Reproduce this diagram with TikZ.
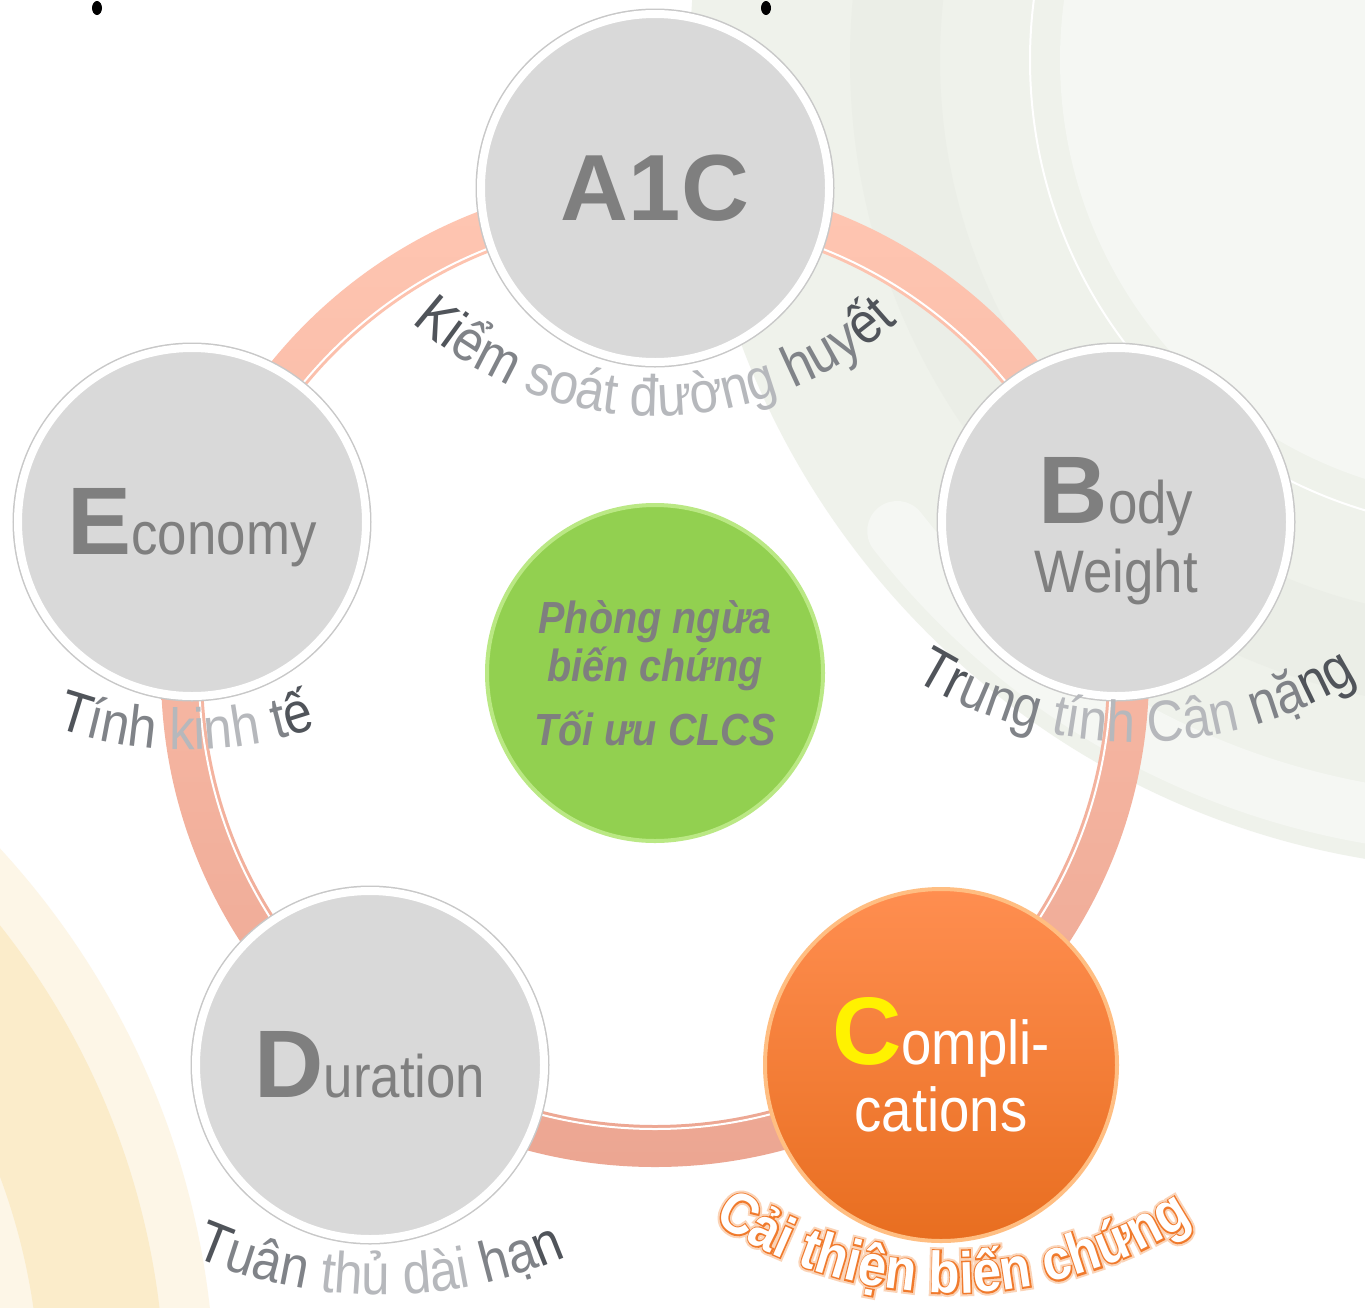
\documentclass[tikz,border=0pt]{standalone}
\usepackage{fontspec}
\setmainfont{Liberation Sans}
\newfontfamily\condfont[FakeStretch=0.88]{Liberation Sans}
\newfontfamily\glowfont[FakeStretch=0.88, FakeBold=12]{Liberation Sans}
\newfontfamily\edgefont[FakeStretch=0.88, FakeBold=5]{Liberation Sans}
\usetikzlibrary{decorations.text}

\definecolor{ballGrey}{RGB}{217,217,217}
\definecolor{ballEdge}{RGB}{200,200,200}
\definecolor{ballText}{RGB}{127,127,127}
\definecolor{ringTop}{RGB}{255,198,178}
\definecolor{ringBot}{RGB}{236,166,146}
\definecolor{coreGreen}{RGB}{146,208,80}
\definecolor{coreRim}{RGB}{186,232,132}
\definecolor{complTop}{RGB}{255,142,80}
\definecolor{complBot}{RGB}{232,110,32}
\definecolor{complRim}{RGB}{255,190,130}
\definecolor{labDark}{RGB}{80,84,90}
\definecolor{labMid}{RGB}{128,131,136}
\definecolor{labLight}{RGB}{182,184,188}
\definecolor{glowOrange}{RGB}{251,212,184}
\definecolor{lineOrange}{RGB}{240,122,44}
\definecolor{bgGreen}{RGB}{239,242,235}
\definecolor{bgGreenD}{RGB}{235,238,231}
\definecolor{bgGreenL}{RGB}{245,247,243}
\definecolor{bgCream}{RGB}{253,246,231}
\definecolor{bgYellow}{RGB}{251,236,202}

\newcommand{\iniFont}{\normalfont\fontsize{48}{48}\selectfont\bfseries}
\newcommand{\wrdFont}{\condfont\fontsize{30}{30}\selectfont}
\newcommand{\arcFont}{\condfont\fontsize{29}{29}\selectfont}
\newcommand{\cmpFont}{\fontsize{29}{29}\selectfont\bfseries}

\begin{document}
\begin{tikzpicture}[x=0.5pt, y=-0.5pt,
    ball/.style={circle, fill=ballGrey, draw=white, line width=4pt, minimum size=174pt, inner sep=0pt, text=ballText, align=center, font=\wrdFont, preaction={draw=ballEdge, line width=5.5pt}},
    corebox/.style={circle, fill=coreGreen, draw=coreRim, line width=2pt, minimum size=168pt, inner sep=0pt, text=ballText, align=center, font=\condfont\fontsize{22.5}{24}\selectfont\bfseries\itshape},
    hotball/.style={circle, top color=complTop, bottom color=complBot, draw=complRim, line width=2pt, minimum size=176pt, inner sep=0pt, text=white, align=center, font=\condfont\fontsize{31}{31}\selectfont},
    arclabel/.style={decorate, decoration={text along path, text align=center, text={#1}}}
]
    \useasboundingbox (0,0) rectangle (1365,1307);

    % Background
    \fill[white] (0,0) rectangle (1365,1307);
    \begin{scope}
        \clip (0,0) rectangle (1365,1307);
        \fill[bgGreen] (1500,60) circle (810);
        \fill[bgGreenD, even odd rule] (1500,60) circle (650) circle (560);
        \fill[bgGreenL] (1500,60) circle (440);
        \draw[white, line width=1pt] (1500,60) circle (470);
        \draw[bgGreenL, line width=30pt, line cap=round] (1500,60) ++(142:765) arc[start angle=142, end angle=60, radius=765];
        \fill[bgCream] (-600,1400) circle (815);
        \fill[bgYellow, even odd rule] (-600,1400) circle (765) circle (640);
        \draw[white, line width=1pt] (-600,1400) circle (560);
    \end{scope}
    \fill[black] (97,8) ellipse (5 and 7);
    \fill[black] (766,8) ellipse (5 and 7);

    % Ring
    \coordinate (hub) at (655,673);
    \shade[top color=ringTop, bottom color=ringBot, even odd rule] (hub) circle (494) circle (452);
    \draw[white, line width=1pt] (hub) circle (456);

    % Nodes
    \node[ball] (a1c) at (655,188) {{\iniFont\fontsize{47}{47}\selectfont A1C}};
    \node[ball] (body) at (1116,522) {\rule{0pt}{42pt}{\iniFont B}ody\\[4.5pt]Weight};
    \node[hotball] (compl) at (941,1065) {{\iniFont\color{yellow}C}ompli-\\[2.5pt]cations};
    \node[ball] (dur) at (370,1065) {{\iniFont D}uration};
    \node[ball] (econ) at (192,522) {\rule{0pt}{39pt}{\iniFont E}conomy};
    \node[corebox] (core) at (hub) {Phòng ngừa\\biến chứng\\[8pt]Tối ưu CLCS};

    % Curved labels
    \path[arclabel={|\arcFont\color{labDark}|Ki|\arcFont\color{labMid}|ểm |\arcFont\color{labLight}|soát đường |\arcFont\color{labMid}|huy|\arcFont\color{labDark}|ết}]
        (655,56) ++(145:360) arc[start angle=145, end angle=35, radius=360];
    \path[arclabel={|\arcFont\color{labDark}|Tr|\arcFont\color{labMid}|ung |\arcFont\color{labLight}|tính Cân |\arcFont\color{labMid}|nặ|\arcFont\color{labDark}|ng}]
        (1136,318) ++(145:424) arc[start angle=145, end angle=35, radius=424];
    \path[arclabel={|\arcFont\color{labDark}|T|\arcFont\color{labMid}|ính |\arcFont\color{labLight}|kinh |\arcFont\color{labMid}|t|\arcFont\color{labDark}|ế}]
        (186,356) ++(145:394) arc[start angle=145, end angle=35, radius=394];
    \path[arclabel={|\arcFont\color{labDark}|T|\arcFont\color{labMid}|uân |\arcFont\color{labLight}|thủ dài |\arcFont\color{labMid}|hạ|\arcFont\color{labDark}|n}]
        (380,827) ++(145:468) arc[start angle=145, end angle=35, radius=468];
    \foreach \fnt/\col in {\glowfont/glowOrange, \edgefont/lineOrange, \condfont/white}
        \path[arclabel={|\fnt\cmpFont\color{\col}|Cải thiện biến chứng}]
            (953,856) ++(147:437) arc[start angle=147, end angle=33, radius=437];
\end{tikzpicture}
\end{document}
